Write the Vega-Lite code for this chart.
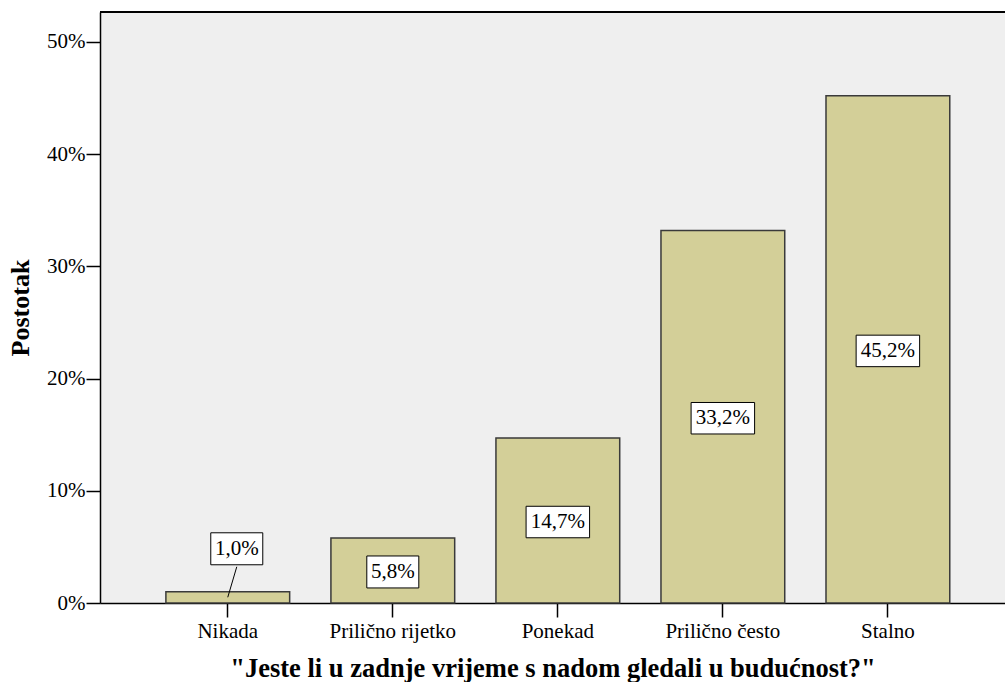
{
  "$schema": "https://vega.github.io/schema/vega-lite/v6.json",
  "width": 905,
  "height": 591,
  "autosize": {"type": "none"},
  "padding": {"left": 100, "top": 12, "right": 0, "bottom": 79},
  "background": "white",
  "config": {
    "locale": {"number": {"decimal": ",", "thousands": ".", "grouping": [3], "currency": ["", " €"]}},
    "view": {"fill": "#efefef", "stroke": null},
    "font": "Liberation Serif"
  },
  "data": {
    "values": [
      {"kategorija": "Nikada", "postotak": 0.010},
      {"kategorija": "Prilično rijetko", "postotak": 0.058},
      {"kategorija": "Ponekad", "postotak": 0.147},
      {"kategorija": "Prilično često", "postotak": 0.332},
      {"kategorija": "Stalno", "postotak": 0.452}
    ]
  },
  "layer": [
    {
      "mark": {"type": "bar", "fill": "#d3cf98", "stroke": "#3a3a3a", "strokeWidth": 1.5},
      "encoding": {
        "x": {
          "field": "kategorija",
          "type": "nominal",
          "sort": null,
          "scale": {"paddingInner": 0.25, "paddingOuter": 0.367, "align": 0.544},
          "axis": {
            "title": "\"Jeste li u zadnje vrijeme s nadom gledali u budućnost?\"",
            "titleFont": "Liberation Serif",
            "titleFontSize": 26.5,
            "titleFontWeight": "bold",
            "titleColor": "black",
            "titlePadding": 14,
            "labelFont": "Liberation Serif",
            "labelFontSize": 21,
            "labelColor": "black",
            "labelAngle": 0,
            "labelPadding": 3,
            "tickSize": 14,
            "tickColor": "black",
            "tickWidth": 1.5,
            "domainColor": "black",
            "domainWidth": 1.5,
            "grid": false
          }
        },
        "y": {
          "field": "postotak",
          "type": "quantitative",
          "scale": {"domain": [0, 0.5267], "nice": false},
          "axis": {
            "title": "Postotak",
            "titleFont": "Liberation Serif",
            "titleFontSize": 26,
            "titleFontWeight": "bold",
            "titleColor": "black",
            "titlePadding": 13,
            "format": ".0%",
            "values": [0, 0.1, 0.2, 0.3, 0.4, 0.5],
            "labelFont": "Liberation Serif",
            "labelFontSize": 21,
            "labelColor": "black",
            "labelPadding": 1,
            "tickSize": 14,
            "tickColor": "black",
            "tickWidth": 1.5,
            "domainColor": "black",
            "domainWidth": 1.5,
            "grid": false
          }
        }
      }
    },
    {
      "mark": {"type": "rule", "color": "black", "strokeWidth": 1.5},
      "encoding": {"y": {"datum": 0.5267, "type": "quantitative"}}
    },
    {
      "transform": [{"filter": "datum.postotak < 0.03"}],
      "mark": {"type": "rule", "color": "black", "strokeWidth": 1, "yOffset": 5.5, "y2Offset": -25, "x2Offset": 9},
      "encoding": {
        "x": {"field": "kategorija", "type": "nominal", "sort": null},
        "x2": {"field": "kategorija"},
        "y": {"field": "postotak", "type": "quantitative"},
        "y2": {"field": "postotak"}
      }
    },
    {
      "transform": [{"filter": "datum.postotak < 0.03"}],
      "mark": {"type": "point", "shape": "M-1,-0.615H1V0.615H-1Z", "size": 2704, "filled": true, "fill": "white", "stroke": "black", "strokeWidth": 1, "opacity": 1, "xOffset": 9, "yOffset": -43},
      "encoding": {
        "x": {"field": "kategorija", "type": "nominal", "sort": null},
        "y": {"field": "postotak", "type": "quantitative"}
      }
    },
    {
      "transform": [{"filter": "datum.postotak < 0.03"}],
      "mark": {"type": "text", "font": "Liberation Serif", "fontSize": 21, "color": "black", "baseline": "middle", "align": "center", "xOffset": 9, "yOffset": -43},
      "encoding": {
        "x": {"field": "kategorija", "type": "nominal", "sort": null},
        "y": {"field": "postotak", "type": "quantitative"},
        "text": {"field": "postotak", "type": "quantitative", "format": ".1%"}
      }
    },
    {
      "transform": [{"filter": "datum.postotak >= 0.03"}, {"calculate": "datum.postotak / 2", "as": "sredina"}],
      "layer": [
        {
          "transform": [{"filter": "datum.postotak < 0.1"}],
          "mark": {"type": "point", "shape": "M-1,-0.615H1V0.615H-1Z", "size": 2704, "filled": true, "fill": "white", "stroke": "black", "strokeWidth": 1, "opacity": 1, "yOffset": 1.5},
          "encoding": {
            "x": {"field": "kategorija", "type": "nominal", "sort": null},
            "y": {"field": "sredina", "type": "quantitative"}
          }
        },
        {
          "transform": [{"filter": "datum.postotak >= 0.1"}],
          "mark": {"type": "point", "shape": "M-1,-0.496H1V0.496H-1Z", "size": 4032, "filled": true, "fill": "white", "stroke": "black", "strokeWidth": 1, "opacity": 1, "yOffset": 1.5},
          "encoding": {
            "x": {"field": "kategorija", "type": "nominal", "sort": null},
            "y": {"field": "sredina", "type": "quantitative"}
          }
        },
        {
          "mark": {"type": "text", "font": "Liberation Serif", "fontSize": 21, "color": "black", "baseline": "middle", "align": "center", "yOffset": 1.5},
          "encoding": {
            "x": {"field": "kategorija", "type": "nominal", "sort": null},
            "y": {"field": "sredina", "type": "quantitative"},
            "text": {"field": "postotak", "type": "quantitative", "format": ".1%"}
          }
        }
      ]
    }
  ]
}
